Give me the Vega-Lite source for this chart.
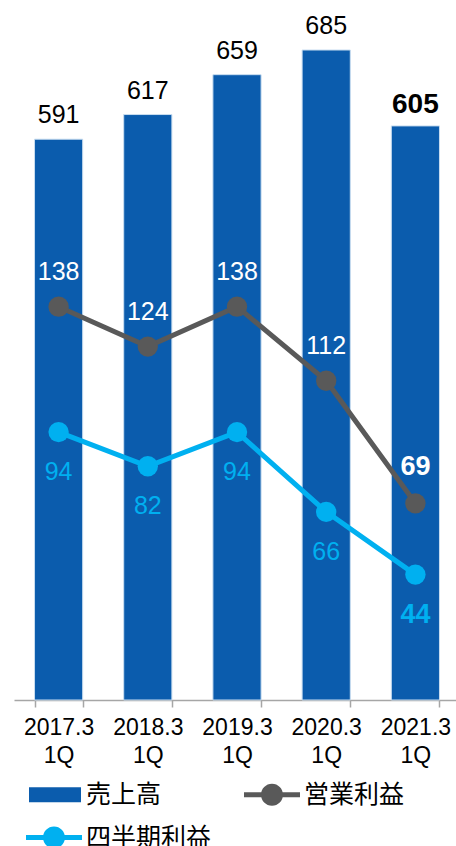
{
  "$schema": "https://vega.github.io/schema/vega-lite/v6.json",
  "width": 446,
  "height": 700,
  "autosize": {"type": "none"},
  "padding": {"left": 14, "top": 0, "right": 0, "bottom": 146},
  "background": "white",
  "config": {"view": {"stroke": null}, "font": "Liberation Sans"},
  "datasets": {
    "sales": [
      {"period": "2017.3 1Q", "series": "売上高", "value": 591},
      {"period": "2018.3 1Q", "series": "売上高", "value": 617},
      {"period": "2019.3 1Q", "series": "売上高", "value": 659},
      {"period": "2020.3 1Q", "series": "売上高", "value": 685},
      {"period": "2021.3 1Q", "series": "売上高", "value": 605}
    ],
    "profit": [
      {"period": "2017.3 1Q", "series": "営業利益", "value": 138},
      {"period": "2018.3 1Q", "series": "営業利益", "value": 124},
      {"period": "2019.3 1Q", "series": "営業利益", "value": 138},
      {"period": "2020.3 1Q", "series": "営業利益", "value": 112},
      {"period": "2021.3 1Q", "series": "営業利益", "value": 69},
      {"period": "2017.3 1Q", "series": "四半期利益", "value": 94},
      {"period": "2018.3 1Q", "series": "四半期利益", "value": 82},
      {"period": "2019.3 1Q", "series": "四半期利益", "value": 94},
      {"period": "2020.3 1Q", "series": "四半期利益", "value": 66},
      {"period": "2021.3 1Q", "series": "四半期利益", "value": 44}
    ]
  },
  "layer": [
    {
      "data": {"name": "sales"},
      "layer": [
        {
          "mark": {"type": "bar", "stroke": "#C9DDF0", "strokeWidth": 1},
          "encoding": {
            "x": {
              "field": "period", "type": "nominal", "sort": null,
              "scale": {"paddingInner": 0.46, "paddingOuter": 0.23},
              "axis": {
                "title": null, "labelAngle": 0, "tickBand": "extent",
                "domainColor": "#A6A6A6", "domainWidth": 1.5, "tickColor": "#A6A6A6", "tickWidth": 1.5, "tickSize": 7,
                "labelFont": "Liberation Sans", "labelFontSize": 23, "labelColor": "#000000",
                "labelPadding": 9, "labelLineHeight": 28,
                "labelExpr": "split(datum.label, ' ')"
              }
            },
            "y": {"field": "value", "type": "quantitative", "scale": {"domain": [0, 737.7], "nice": false}, "axis": null},
            "color": {
              "field": "series", "type": "nominal",
              "scale": {"domain": ["売上高", "営業利益", "四半期利益"], "range": ["#0B5CAD", "#595959", "#00B0F0"]},
              "legend": {
                "title": null, "orient": "none", "legendX": 9.5, "legendY": 782, "direction": "horizontal", "columns": 2,
                "columnPadding": 30, "rowPadding": 17,
                "labelFont": "Noto Sans CJK JP", "labelFontSize": 25, "labelColor": "#000000", "labelLimit": 0,
                "symbolSize": 400, "symbolStrokeWidth": 0, "labelOffset": 37.5,
                "encode": {"symbols": {"update": {"fill": {"scale": "color", "field": "value"}, "opacity": {"value": 1}, "strokeWidth": {"value": 0}}}}
              }
            }
          }
        },
        {
          "transform": [{"filter": "datum.period != '2021.3 1Q'"}],
          "mark": {"type": "text", "baseline": "alphabetic", "dy": -16, "fontSize": 25, "color": "#000000"},
          "encoding": {
            "x": {"field": "period", "type": "nominal", "sort": null},
            "y": {"field": "value", "type": "quantitative", "scale": {"domain": [0, 737.7], "nice": false}},
            "text": {"field": "value", "type": "quantitative"}
          }
        },
        {
          "transform": [{"filter": "datum.period == '2021.3 1Q'"}],
          "mark": {"type": "text", "baseline": "alphabetic", "dy": -13, "fontSize": 28, "fontWeight": "bold", "color": "#000000"},
          "encoding": {
            "x": {"field": "period", "type": "nominal", "sort": null},
            "y": {"field": "value", "type": "quantitative", "scale": {"domain": [0, 737.7], "nice": false}},
            "text": {"field": "value", "type": "quantitative"}
          }
        }
      ]
    },
    {
      "data": {"name": "profit"},
      "layer": [
        {
          "mark": {"type": "line", "strokeWidth": 5},
          "encoding": {
            "x": {"field": "period", "type": "nominal", "sort": null},
            "y": {"field": "value", "type": "quantitative", "scale": {"domain": [0, 245.6], "nice": false}, "axis": null},
            "color": {"field": "series", "type": "nominal"}
          }
        },
        {
          "mark": {"type": "point", "filled": true, "size": 415, "opacity": 1},
          "encoding": {
            "x": {"field": "period", "type": "nominal", "sort": null},
            "y": {"field": "value", "type": "quantitative", "scale": {"domain": [0, 245.6], "nice": false}},
            "color": {"field": "series", "type": "nominal"}
          }
        },
        {
          "transform": [{"filter": "datum.series == '営業利益' && datum.period != '2021.3 1Q'"}],
          "mark": {"type": "text", "baseline": "middle", "dy": -35, "fontSize": 25, "color": "#FFFFFF"},
          "encoding": {
            "x": {"field": "period", "type": "nominal", "sort": null},
            "y": {"field": "value", "type": "quantitative", "scale": {"domain": [0, 245.6], "nice": false}},
            "text": {"field": "value", "type": "quantitative"}
          }
        },
        {
          "transform": [{"filter": "datum.series == '営業利益' && datum.period == '2021.3 1Q'"}],
          "mark": {"type": "text", "baseline": "middle", "dy": -36, "fontSize": 27, "fontWeight": "bold", "color": "#FFFFFF"},
          "encoding": {
            "x": {"field": "period", "type": "nominal", "sort": null},
            "y": {"field": "value", "type": "quantitative", "scale": {"domain": [0, 245.6], "nice": false}},
            "text": {"field": "value", "type": "quantitative"}
          }
        },
        {
          "transform": [{"filter": "datum.series == '四半期利益' && datum.period != '2021.3 1Q'"}],
          "mark": {"type": "text", "baseline": "middle", "dy": 40, "fontSize": 25, "color": "#00B0F0"},
          "encoding": {
            "x": {"field": "period", "type": "nominal", "sort": null},
            "y": {"field": "value", "type": "quantitative", "scale": {"domain": [0, 245.6], "nice": false}},
            "text": {"field": "value", "type": "quantitative"}
          }
        },
        {
          "transform": [{"filter": "datum.series == '四半期利益' && datum.period == '2021.3 1Q'"}],
          "mark": {"type": "text", "baseline": "middle", "dy": 40, "fontSize": 27, "fontWeight": "bold", "color": "#00B0F0"},
          "encoding": {
            "x": {"field": "period", "type": "nominal", "sort": null},
            "y": {"field": "value", "type": "quantitative", "scale": {"domain": [0, 245.6], "nice": false}},
            "text": {"field": "value", "type": "quantitative"}
          }
        },
        {
          "transform": [{"filter": "false"}],
          "mark": {"type": "point", "filled": true},
          "encoding": {
            "color": {"field": "series", "type": "nominal"},
            "shape": {
              "field": "series", "type": "nominal",
              "scale": {
                "domain": ["売上高", "営業利益", "四半期利益"],
                "range": [
                  "M-0.7,-0.75L4.5,-0.75L4.5,0.75L-0.7,0.75Z",
                  "M-1,-0.25L4.6,-0.25L4.6,0.25L-1,0.25Z M0.7,0A1.1,1.1 0 1,1 2.9,0A1.1,1.1 0 1,1 0.7,0Z",
                  "M-1,-0.25L4.6,-0.25L4.6,0.25L-1,0.25Z M0.7,0A1.1,1.1 0 1,1 2.9,0A1.1,1.1 0 1,1 0.7,0Z"
                ]
              },
              "legend": {
                "title": null, "orient": "none", "legendX": 9.5, "legendY": 782, "direction": "horizontal", "columns": 2,
                "columnPadding": 30, "rowPadding": 17,
                "labelFont": "Noto Sans CJK JP", "labelFontSize": 25, "labelColor": "#000000", "labelLimit": 0,
                "symbolSize": 400, "symbolStrokeWidth": 0, "labelOffset": 37.5
              }
            }
          }
        }
      ]
    }
  ],
  "resolve": {"scale": {"y": "independent"}}
}
